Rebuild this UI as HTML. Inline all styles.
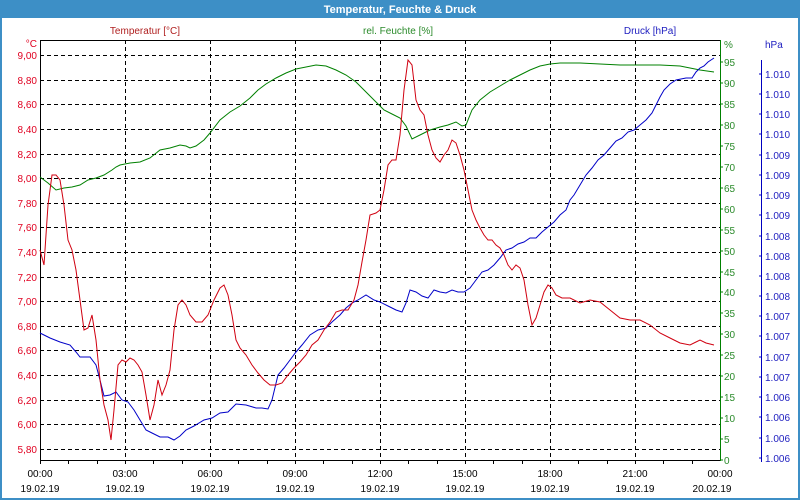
<!DOCTYPE html>
<html><head><meta charset="utf-8"><style>
html,body{margin:0;padding:0;background:#fff}
svg{display:block;font-family:"Liberation Sans","DejaVu Sans",sans-serif}
</style></head><body>
<svg width="800" height="500" viewBox="0 0 800 500" xmlns="http://www.w3.org/2000/svg">
<rect x="0" y="0" width="800" height="500" fill="#fff"/>
<rect x="1" y="1" width="798" height="498" fill="none" stroke="#3d8fc6" stroke-width="2"/>
<rect x="0" y="0" width="800" height="18" fill="#3d8fc6"/>
<text x="400" y="13" text-anchor="middle" font-size="11" font-weight="bold" fill="#fff">Temperatur, Feuchte &amp; Druck</text>
<text x="145" y="34" text-anchor="middle" font-size="10" fill="#b02020">Temperatur [°C]</text>
<text x="398" y="34" text-anchor="middle" font-size="10" fill="#2a8a2a">rel. Feuchte [%]</text>
<text x="650" y="34" text-anchor="middle" font-size="10" fill="#2020c0">Druck [hPa]</text>
<g stroke="#000" stroke-dasharray="4,3" stroke-width="1">
<line x1="40" y1="55.5" x2="720" y2="55.5"/><line x1="40" y1="80.5" x2="720" y2="80.5"/><line x1="40" y1="104.5" x2="720" y2="104.5"/><line x1="40" y1="129.5" x2="720" y2="129.5"/><line x1="40" y1="154.5" x2="720" y2="154.5"/><line x1="40" y1="178.5" x2="720" y2="178.5"/><line x1="40" y1="203.5" x2="720" y2="203.5"/><line x1="40" y1="227.5" x2="720" y2="227.5"/><line x1="40" y1="252.5" x2="720" y2="252.5"/><line x1="40" y1="277.5" x2="720" y2="277.5"/><line x1="40" y1="301.5" x2="720" y2="301.5"/><line x1="40" y1="326.5" x2="720" y2="326.5"/><line x1="40" y1="350.5" x2="720" y2="350.5"/><line x1="40" y1="375.5" x2="720" y2="375.5"/><line x1="40" y1="400.5" x2="720" y2="400.5"/><line x1="40" y1="424.5" x2="720" y2="424.5"/><line x1="40" y1="449.5" x2="720" y2="449.5"/>
<line x1="125.5" y1="40" x2="125.5" y2="460"/><line x1="210.5" y1="40" x2="210.5" y2="460"/><line x1="295.5" y1="40" x2="295.5" y2="460"/><line x1="380.5" y1="40" x2="380.5" y2="460"/><line x1="465.5" y1="40" x2="465.5" y2="460"/><line x1="550.5" y1="40" x2="550.5" y2="460"/><line x1="635.5" y1="40" x2="635.5" y2="460"/>
</g>
<g stroke="#000"><line x1="40.5" y1="40" x2="40.5" y2="460"/><line x1="40" y1="40.5" x2="720" y2="40.5"/><line x1="40" y1="460.5" x2="720" y2="460.5"/>
<path d="M68.5 460v4M97.5 460v4M125.5 460v4M153.5 460v4M182.5 460v4M210.5 460v4M238.5 460v4M267.5 460v4M295.5 460v4M323.5 460v4M352.5 460v4M380.5 460v4M408.5 460v4M437.5 460v4M465.5 460v4M493.5 460v4M522.5 460v4M550.5 460v4M578.5 460v4M607.5 460v4M635.5 460v4M663.5 460v4M692.5 460v4M40.5 460v4"/></g>
<line x1="720.5" y1="40" x2="720.5" y2="461" stroke="#008000"/>
<line x1="761.5" y1="60" x2="761.5" y2="462" stroke="#0000c0"/>
<g font-size="10" fill="#e00020" text-anchor="end">
<text x="37" y="47">°C</text>
<text x="37" y="59">9,00</text><text x="37" y="84">8,80</text><text x="37" y="108">8,60</text><text x="37" y="133">8,40</text><text x="37" y="158">8,20</text><text x="37" y="182">8,00</text><text x="37" y="207">7,80</text><text x="37" y="231">7,60</text><text x="37" y="256">7,40</text><text x="37" y="281">7,20</text><text x="37" y="305">7,00</text><text x="37" y="330">6,80</text><text x="37" y="354">6,60</text><text x="37" y="379">6,40</text><text x="37" y="404">6,20</text><text x="37" y="428">6,00</text><text x="37" y="453">5,80</text>
</g>
<g font-size="10" fill="#2a8a2a">
<text x="724" y="48">%</text>
<text x="724" y="66">95</text><text x="724" y="87">90</text><text x="724" y="108">85</text><text x="724" y="129">80</text><text x="724" y="150">75</text><text x="724" y="171">70</text><text x="724" y="192">65</text><text x="724" y="213">60</text><text x="724" y="234">55</text><text x="724" y="255">50</text><text x="724" y="276">45</text><text x="724" y="296">40</text><text x="724" y="317">35</text><text x="724" y="338">30</text><text x="724" y="359">25</text><text x="724" y="380">20</text><text x="724" y="401">15</text><text x="724" y="422">10</text><text x="724" y="443">5</text><text x="724" y="464">0</text>
</g>
<g stroke="#008000"><path d="M720 62h3M720 83h3M720 104h3M720 125h3M720 146h3M720 167h3M720 188h3M720 209h3M720 230h3M720 251h3M720 272h3M720 292h3M720 313h3M720 334h3M720 355h3M720 376h3M720 397h3M720 418h3M720 439h3M720 460h3"/></g>
<g font-size="10" fill="#2020c0">
<text x="765" y="48">hPa</text>
<text x="765" y="78">1.010</text><text x="765" y="98">1.010</text><text x="765" y="118">1.010</text><text x="765" y="138">1.010</text><text x="765" y="159">1.009</text><text x="765" y="179">1.009</text><text x="765" y="199">1.009</text><text x="765" y="219">1.009</text><text x="765" y="240">1.008</text><text x="765" y="260">1.008</text><text x="765" y="280">1.008</text><text x="765" y="300">1.008</text><text x="765" y="320">1.007</text><text x="765" y="340">1.007</text><text x="765" y="361">1.007</text><text x="765" y="381">1.007</text><text x="765" y="401">1.006</text><text x="765" y="421">1.006</text><text x="765" y="442">1.006</text><text x="765" y="462">1.006</text>
</g>
<g stroke="#0000c0"><path d="M759 74h3M759 94h3M759 114h3M759 134h3M759 155h3M759 175h3M759 195h3M759 215h3M759 236h3M759 256h3M759 276h3M759 296h3M759 316h3M759 336h3M759 357h3M759 377h3M759 397h3M759 417h3M759 438h3M759 458h3"/></g>
<g font-size="10" fill="#000" text-anchor="middle">
<text x="40" y="477">00:00</text><text x="40" y="492">19.02.19</text>
<text x="125" y="477">03:00</text><text x="125" y="492">19.02.19</text>
<text x="210" y="477">06:00</text><text x="210" y="492">19.02.19</text>
<text x="295" y="477">09:00</text><text x="295" y="492">19.02.19</text>
<text x="380" y="477">12:00</text><text x="380" y="492">19.02.19</text>
<text x="465" y="477">15:00</text><text x="465" y="492">19.02.19</text>
<text x="550" y="477">18:00</text><text x="550" y="492">19.02.19</text>
<text x="635" y="477">21:00</text><text x="635" y="492">19.02.19</text>
<text x="720" y="477">00:00</text><text x="712" y="492">20.02.19</text>
</g>
<polyline fill="none" stroke="#008000" stroke-width="1" points="40,177 48,183 56,190 64,188 72,187 80,185 88,180 96,178 104,175 112,170 116,167 120,165 130,163 140,162 150,158 160,150 170,148 180,145 186,146 190,148 196,146 204,140 210,133 220,120 230,112 240,106 250,98 258,90 266,84 276,78 286,73 296,69 306,67 316,65 326,66 336,70 346,75 356,82 366,92 376,102 384,110 392,114 400,118 406,126 412,139 420,135 430,130 440,127 448,125 456,122 462,126 466,125 472,110 480,100 490,92 500,86 510,80 520,75 530,70 540,66 550,64 560,63 580,63 600,64 620,65 640,65 660,65 680,66 700,70 714,72"/>
<polyline fill="none" stroke="#0000c8" stroke-width="1" points="40,333 50,338 60,342 70,345 76,352 80,357 90,357 96,365 100,380 104,396 110,395 116,392 122,400 128,402 134,410 140,420 146,430 152,433 160,437 168,437 174,440 180,436 186,430 194,426 204,420 212,418 220,413 228,412 236,404 246,405 256,408 262,408 268,409 272,400 278,375 284,368 290,360 296,352 302,345 310,335 318,330 326,328 332,322 340,315 346,308 352,303 358,300 366,295 374,300 380,302 388,306 396,310 402,312 406,303 410,290 416,292 422,296 428,298 434,290 440,292 446,293 452,290 458,292 464,292 470,288 476,280 482,272 488,270 494,265 500,258 506,250 512,248 518,244 524,242 530,238 536,238 542,232 548,227 554,222 560,215 566,210 570,200 574,195 580,185 586,175 592,168 598,160 604,155 610,148 616,141 622,138 628,132 634,130 640,125 646,120 652,113 656,105 660,97 664,90 670,84 676,80 686,78 692,78 696,72 700,68 704,66 708,62 714,58"/>
<polyline fill="none" stroke="#d00010" stroke-width="1" points="40,250 44,265 48,205 52,175 56,175 60,180 64,205 68,240 72,250 76,270 80,300 84,330 88,328 92,315 96,340 100,380 104,405 108,420 111,440 114,410 118,365 122,360 126,362 130,358 134,360 138,365 142,372 146,395 150,420 154,405 158,380 162,395 166,385 170,370 174,330 178,305 182,300 186,305 190,315 196,322 202,322 208,315 214,300 220,288 224,285 228,295 232,315 236,340 240,348 246,355 252,365 258,373 264,380 270,385 276,385 282,383 288,375 294,368 300,362 306,355 312,345 318,340 324,330 330,322 336,312 342,310 348,310 354,300 358,285 362,262 366,240 370,215 376,213 380,210 384,190 388,165 392,160 396,160 400,135 404,90 408,60 412,65 416,100 420,110 424,115 428,135 432,150 436,158 440,162 444,155 448,150 452,140 456,143 460,155 464,170 468,190 472,210 476,220 480,228 484,235 488,240 492,240 496,245 500,248 504,255 508,265 512,270 516,265 520,268 524,280 528,305 532,325 536,318 540,305 544,292 548,285 552,288 556,295 562,298 570,298 580,303 590,300 600,302 610,310 620,318 630,320 640,320 650,325 660,333 670,338 680,343 690,345 696,342 700,340 706,343 714,345"/>
</svg>
</body></html>
